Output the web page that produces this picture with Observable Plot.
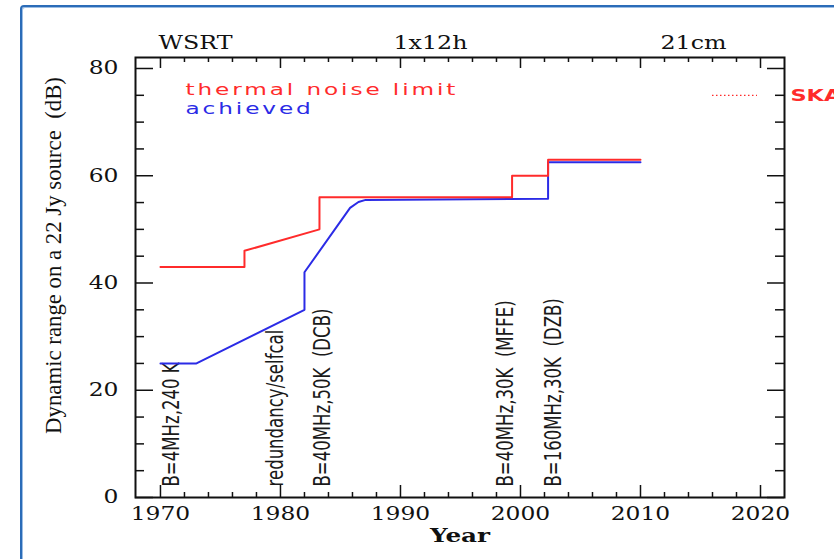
<!DOCTYPE html>
<html><head><meta charset="utf-8">
<script src="https://cdn.jsdelivr.net/npm/d3@7"></script>
<script src="https://cdn.jsdelivr.net/npm/@observablehq/plot@0.6"></script>
<style>
html,body{margin:0;padding:0;background:#fff;}
#wrap{position:relative;width:834px;height:559px;overflow:hidden;}
#chart{position:absolute;left:0;top:0;}
#border{position:absolute;left:20px;top:5px;width:900px;height:700px;border:2px solid #2b6cb8;border-radius:4px;box-shadow:inset 1px 1px 0 #9cbde3;pointer-events:none;}
</style></head><body>
<div id="wrap"><div id="chart"></div><div id="border"></div></div>
<script>
// ---- data ----
const thermalYear = [1970, 1977, 1977, 1983.25, 1983.25, 1999.3, 1999.3, 2002.3, 2002.3, 2010];
const thermalDb   = [43,   43,   46,   50,      56,      56,     60,     60,     63,     63];
const achievedYear = [1970, 1973, 1982, 1982, 1985.8, 1986.5, 1987.1, 2002.3, 2002.3, 2010];
const achievedDb   = [25,   25,   35,   42,   54,     55.1,   55.5,   55.7,   62.5,   62.5];
const annotYear  = [1970.9, 1979.6, 1983.5, 1998.75, 2002.75];
const annotLabel = ["B=4MHz,240 K", "redundancy/selfcal", "B=40MHz,50K  (DCB)", "B=40MHz,30K  (MFFE)", "B=160MHz,30K  (DZB)"];
const skaYears = [2016, 2019.75];
const skaDb = 75;
const skaLabel = "SKA";
const legendLabels = ["thermal noise limit", "achieved"];
const headerLabels = ["WSRT", "1x12h", "21cm"];
const xMajor = [1970, 1980, 1990, 2000, 2010, 2020];
const xMinor = [1972,1974,1976,1978,1982,1984,1986,1988,1992,1994,1996,1998,2002,2004,2006,2008,2012,2014,2016,2018];
const yMajor = [0, 20, 40, 60, 80];
const yMinor = [5,10,15,25,30,35,45,50,55,65,70,75];
const xTitle = "Year";
const yTitle = "Dynamic range on a 22 Jy source  (dB)";

// ---- tables ----
const thermal = thermalYear.map((x, i) => ({year: x, db: thermalDb[i]}));
const achieved = achievedYear.map((x, i) => ({year: x, db: achievedDb[i]}));
const annots = annotYear.map((x, i) => ({year: x, label: annotLabel[i]}));
const ska = [{x1: skaYears[0], x2: skaYears[1], y: skaDb}];

const RED = "#ff2b2b", BLUE = "#2b2be6";
const W = 834, H = 559, ML = 135, MR = 50, MT = 57, MB = 62;
const FW = W - ML - MR, FH = H - MT - MB;
const serif = "DejaVu Serif";
const mid = {lineAnchor: "middle"};

const plot = Plot.plot({
  width: W, height: H,
  marginLeft: ML, marginRight: MR, marginTop: MT, marginBottom: MB,
  style: {background: "transparent", overflow: "visible"},
  x: {domain: [1967.92, 2022], axis: null},
  y: {domain: [0, 82.05], axis: null},
  marks: [
    // ticks (inward, all four sides)
    Plot.tickX(xMinor, {x: d => d, insetTop: FH - 5, stroke: "#111", strokeWidth: 1.5}),
    Plot.tickX(xMajor, {x: d => d, insetTop: FH - 12, stroke: "#111", strokeWidth: 1.5}),
    Plot.tickX(xMinor, {x: d => d, insetBottom: FH - 5, stroke: "#111", strokeWidth: 1.5}),
    Plot.tickX(xMajor, {x: d => d, insetBottom: FH - 11, stroke: "#111", strokeWidth: 1.5}),
    Plot.tickY(yMinor, {y: d => d, insetRight: FW - 9, stroke: "#111", strokeWidth: 1.5}),
    Plot.tickY(yMajor, {y: d => d, insetRight: FW - 18, stroke: "#111", strokeWidth: 1.5}),
    Plot.tickY(yMinor, {y: d => d, insetLeft: FW - 9, stroke: "#111", strokeWidth: 1.5}),
    Plot.tickY(yMajor, {y: d => d, insetLeft: FW - 17, stroke: "#111", strokeWidth: 1.5}),
    Plot.frame({stroke: "#111", strokeWidth: 2}),
    // tick labels
    Plot.text(xMajor, {...mid, x: d => d, text: d => String(d), frameAnchor: "bottom", dy: 17, textAnchor: "middle",
      fontFamily: serif, fontSize: 18, fill: "#111", className: "wide13"}),
    Plot.text(yMajor, {...mid, y: d => d, text: d => String(d), frameAnchor: "left", dx: -17, textAnchor: "end",
      fontFamily: serif, fontSize: 18, fill: "#111", className: "wide13"}),
    // axis titles
    Plot.text([xTitle], {...mid, frameAnchor: "bottom", dy: 38, textAnchor: "middle", fontFamily: serif, fontWeight: "bold",
      fontSize: 19, fill: "#111", className: "wide13"}),
    Plot.text([yTitle], {...mid, frameAnchor: "left", dx: -82, dy: -22, rotate: -90, textAnchor: "middle",
      fontFamily: "Liberation Serif", fontSize: 24, fill: "#111", className: "narrow95"}),
    // header labels
    Plot.text([headerLabels[0]], {...mid, frameAnchor: "top-left", dx: 60, dy: -15, textAnchor: "middle", fontFamily: serif, fontSize: 19, fill: "#111", className: "wide125"}),
    Plot.text([headerLabels[1]], {...mid, frameAnchor: "top", dx: -29.5, dy: -15, textAnchor: "middle", fontFamily: serif, fontSize: 19, fill: "#111", className: "wide125"}),
    Plot.text([headerLabels[2]], {...mid, frameAnchor: "top-right", dx: -91, dy: -15, textAnchor: "middle", fontFamily: serif, fontSize: 19, fill: "#111", className: "wide125"}),
    // annotations
    Plot.text(annots, {...mid, x: "year", text: "label", frameAnchor: "bottom", dy: -11, rotate: -90, textAnchor: "start",
      fontFamily: "DejaVu Sans", fontSize: 23, fill: "#1a1a1a", className: "narrow72"}),
    // data lines
    Plot.line(achieved, {x: "year", y: "db", stroke: BLUE, strokeWidth: 2}),
    Plot.line(thermal, {x: "year", y: "db", stroke: RED, strokeWidth: 2}),
    // legend
    Plot.text([legendLabels[0]], {...mid, frameAnchor: "top-left", dx: 50, dy: 32, textAnchor: "start",
      fontFamily: "DejaVu Sans", fontSize: 16, fill: RED, className: "wide145"}),
    Plot.text([legendLabels[1]], {...mid, frameAnchor: "top-left", dx: 50, dy: 51, textAnchor: "start",
      fontFamily: "DejaVu Sans", fontSize: 16, fill: BLUE, className: "wide145"}),
    // SKA
    Plot.ruleY(ska, {x1: "x1", x2: "x2", y: "y", stroke: RED, strokeWidth: 1.3, strokeDasharray: "1.5,2.5"}),
    Plot.text(ska, {...mid, y: "y", text: () => skaLabel, frameAnchor: "right", dx: 6, dy: 1, textAnchor: "start",
      fontFamily: "DejaVu Sans", fontWeight: "bold", fontSize: 16, fill: RED, className: "wide14"})
  ]
});
document.getElementById("chart").appendChild(plot);

// horizontal stretch of text glyphs (applied around each text's own anchor)
const XMLNS = "http://www.w3.org/XML/1998/namespace";
function stretch(cls, sx, extra) {
  d3.select(plot).selectAll("g." + cls + " text").each(function() {
    const t = this.getAttribute("transform") || "";
    this.setAttribute("transform", t + ` scale(${sx},1)`);
    this.setAttributeNS(XMLNS, "xml:space", "preserve");
    this.style.whiteSpace = "pre";
    if (extra) for (const k in extra) this.style[k] = extra[k];
  });
}
stretch("wide13", 1.3);
stretch("wide125", 1.25);
stretch("narrow95", 0.95);
stretch("narrow72", 0.72);
stretch("wide145", 1.45, {letterSpacing: "2px"});
stretch("wide14", 1.4);
</script>
</body></html>
